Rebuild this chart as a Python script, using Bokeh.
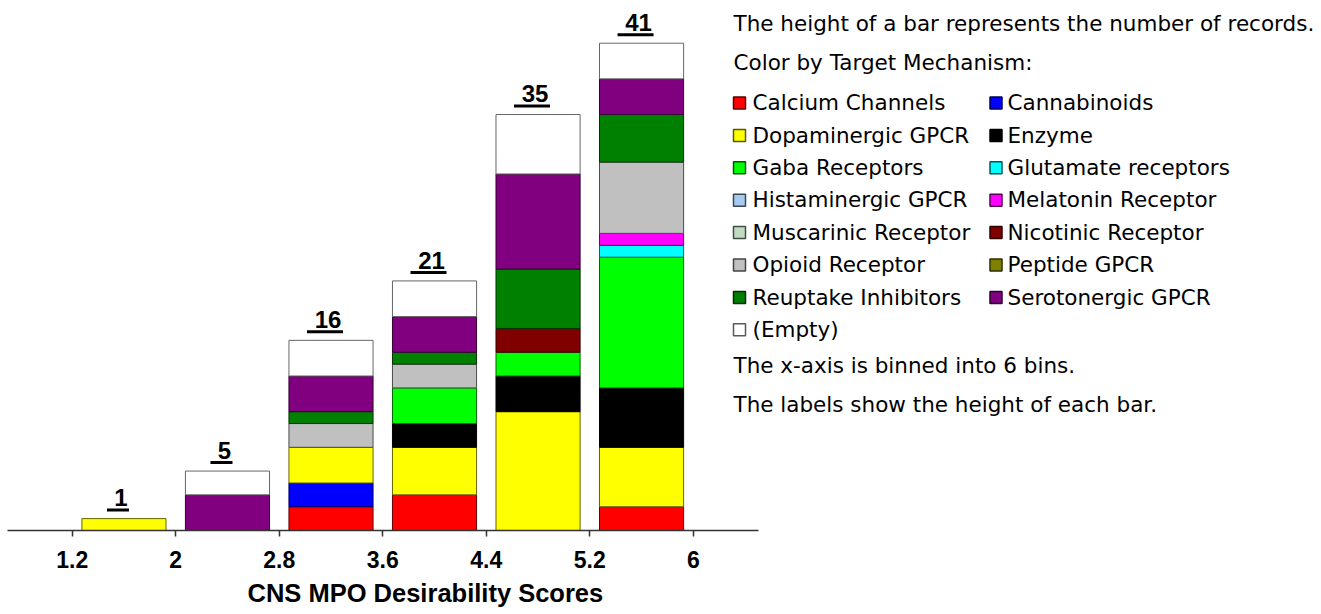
import numpy as np
from bokeh.plotting import figure
from bokeh.models import Range1d, FixedTicker, Title
from bokeh.core.properties import value
from bokeh.embed import file_html
from bokeh.resources import INLINE

# ---------------- data ----------------
bin_edges = [1.2, 2.0, 2.8, 3.6, 4.4, 5.2, 6.0]
tick_labels = ["1.2", "2", "2.8", "3.6", "4.4", "5.2", "6"]

mechanisms = ["Calcium Channels", "Cannabinoids", "Dopaminergic GPCR", "Enzyme",
              "Gaba Receptors", "Glutamate receptors", "Histaminergic GPCR",
              "Melatonin Receptor", "Muscarinic Receptor", "Nicotinic Receptor",
              "Opioid Receptor", "Peptide GPCR", "Reuptake Inhibitors",
              "Serotonergic GPCR", "(Empty)"]
colors = ["#FF0000", "#0000FF", "#FFFF00", "#000000", "#00FF00", "#00FFFF",
          "#A6CAF0", "#FF00FF", "#C0DCC0", "#800000", "#C0C0C0", "#808000",
          "#008000", "#800080", "#FFFFFF"]

calcium = [0, 0, 2, 3, 0, 2]
cannabinoids = [0, 0, 2, 0, 0, 0]
dopaminergic = [1, 0, 3, 4, 10, 5]
enzyme = [0, 0, 0, 2, 3, 5]
gaba = [0, 0, 0, 3, 2, 11]
glutamate = [0, 0, 0, 0, 0, 1]
histaminergic = [0, 0, 0, 0, 0, 0]
melatonin = [0, 0, 0, 0, 0, 1]
muscarinic = [0, 0, 0, 0, 0, 0]
nicotinic = [0, 0, 0, 0, 2, 0]
opioid = [0, 0, 2, 2, 0, 6]
peptide = [0, 0, 0, 0, 0, 0]
reuptake = [0, 0, 1, 1, 5, 4]
serotonergic = [0, 3, 3, 3, 8, 3]
empty = [0, 2, 3, 3, 5, 3]

series = [calcium, cannabinoids, dopaminergic, enzyme, gaba, glutamate,
          histaminergic, melatonin, muscarinic, nicotinic, opioid, peptide,
          reuptake, serotonergic, empty]

header_lines = ["The height of a bar represents the number of records.",
                "Color by Target Mechanism:"]
footer_lines = ["The x-axis is binned into 6 bins.",
                "The labels show the height of each bar."]
axis_title = "CNS MPO Desirability Scores"

# ---------------- layout ----------------
W, H = 1321, 614
frame_h = 530
bottom_border = H - frame_h
px_x = 129.4                 # pixels per x unit
px_y = 11.885                # pixels per record
x_start = 1.2 - 71.7 / px_x
x_axis_bounds = (x_start + 7.3 / px_x, 6.5)
y_end = frame_h / px_y
bar_width = 0.65
TXT_FIX = 0.38               # baseline correction (fraction of font size)


def darker(hexc, f=0.5):
    h = hexc.lstrip("#")
    r, g, b = (int(h[i:i + 2], 16) for i in (0, 2, 4))
    return "#%02x%02x%02x" % (int(r * f), int(g * f), int(b * f))


edges = np.array(bin_edges)
centers = (edges[:-1] + edges[1:]) / 2.0

p = figure(width=W, height=H, output_backend="svg", toolbar_location=None,
           x_range=Range1d(x_start, x_start + W / px_x),
           y_range=Range1d(0, y_end), y_axis_location=None, title=None,
           min_border_left=0, min_border_right=0, min_border_top=0,
           min_border_bottom=bottom_border)
p.outline_line_color = None
p.xgrid.visible = False
p.ygrid.visible = False
p.background_fill_color = "white"

ax = p.xaxis[0]
ax.ticker = FixedTicker(ticks=bin_edges)
ax.major_label_overrides = {e: l for e, l in zip(bin_edges, tick_labels)}
ax.bounds = x_axis_bounds
ax.axis_line_color = "#333333"
ax.axis_line_width = 1.5
ax.major_tick_line_color = "#333333"
ax.major_tick_line_width = 1.5
ax.major_tick_out = 6
ax.major_tick_in = 0
ax.minor_tick_line_color = None
ax.major_label_standoff = 14
ax.major_label_text_font = "Liberation Sans"
ax.major_label_text_font_size = "23px"
ax.major_label_text_font_style = "bold"
ax.major_label_text_color = "black"

p.add_layout(Title(text=axis_title, align="left", offset=247, standoff=12,
                   text_font="Liberation Sans", text_font_size="25.5px",
                   text_font_style="bold", text_color="black"), "below")

# ---------------- stacked bars ----------------
bottom = np.zeros(len(centers))
for name, vals, col in zip(mechanisms, series, colors):
    v = np.array(vals, dtype=float)
    mask = v > 0
    if mask.any():
        p.vbar(x=centers[mask], bottom=bottom[mask], top=(bottom + v)[mask],
               width=bar_width, fill_color=col, line_color=darker(col, 0.4),
               line_width=1)
    bottom = bottom + v

totals = bottom
label_text = [str(int(t)) for t in totals]
lab_size = 24
p.text(x=centers - 3.0 / px_x, y=totals + (11.5 + TXT_FIX * lab_size) / px_y,
       text=label_text, text_align="center", text_baseline="alphabetic",
       text_font=value("Liberation Sans"), text_font_size=f"{lab_size}px",
       text_font_style="bold", text_color="black")
p.rect(x=centers - 6.0 / px_x, y=totals + 8.5 / px_y,
       width=[8 + 14 * len(s) for s in label_text], height=3,
       width_units="screen", height_units="screen",
       fill_color="black", line_color=None)

# ---------------- legend (pixel coordinates, y down) ----------------
p.extra_x_ranges = {"lg": Range1d(0, W)}
p.extra_y_ranges = {"lg": Range1d(frame_h, 0)}

lg_font = value("DejaVu Sans")
lg_px = 21.5
lg_size = f"{lg_px}px"
fix = 0.36 * lg_px
text_x0 = 733
p.text(x=[text_x0, text_x0], y=[30.7 - fix, 69.3 - fix], text=header_lines,
       x_range_name="lg", y_range_name="lg", text_font=lg_font,
       text_font_size=lg_size, text_baseline="alphabetic", text_color="black")
p.text(x=[text_x0, text_x0], y=[372.7 - fix, 411.7 - fix], text=footer_lines,
       x_range_name="lg", y_range_name="lg", text_font=lg_font,
       text_font_size=lg_size, text_baseline="alphabetic", text_color="black")

row_y0, row_step = 110.0, 32.4
col_sq_x = [739.0, 995.5]
col_tx_x = [752.0, 1007.0]
idx = np.arange(len(mechanisms))
rows = idx // 2
cols = idx % 2
base_y = row_y0 + rows * row_step
sq_x = [col_sq_x[c] for c in cols]
tx_x = [col_tx_x[c] for c in cols]
p.rect(x=sq_x, y=base_y - 7.5, width=12, height=12,
       x_range_name="lg", y_range_name="lg",
       fill_color=colors, line_color=[darker(c, 0.35) for c in colors],
       line_width=1.5)
p.text(x=tx_x, y=base_y - fix, text=mechanisms, x_range_name="lg",
       y_range_name="lg", text_font=lg_font, text_font_size=lg_size,
       text_baseline="alphabetic", text_color="black")

open("out.html", "w").write(file_html(p, INLINE))
